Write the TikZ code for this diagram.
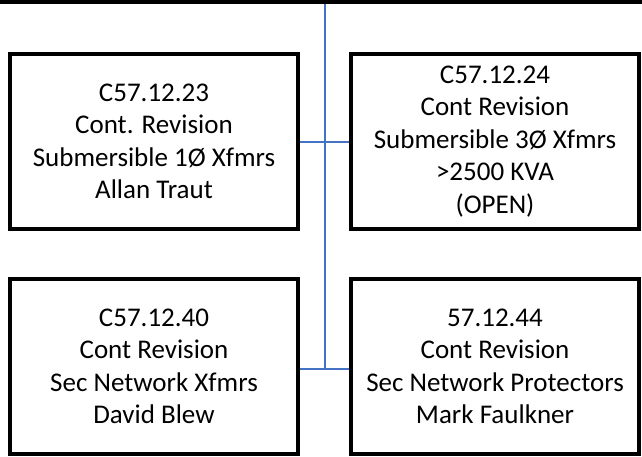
\documentclass[tikz,border=0pt]{standalone}
\usepackage{fontspec}
\setmainfont{Carlito}
\definecolor{linkblue}{RGB}{68,114,196}
\tikzset{
    unit/.style={draw, line width=4pt, minimum width=288pt, minimum height=175pt,
        inner sep=0pt, align=center, font=\fontsize{27}{32.5}\selectfont},
    link/.style={draw=linkblue, line width=2pt}
}
\begin{document}
\begin{tikzpicture}[x=1pt,y=-1pt]
        \useasboundingbox (0,0) rectangle (642,456);
        \clip (0,0) rectangle (642,456);
        \node[draw, line width=4pt, minimum width=700pt, minimum height=100pt] (top) at (325,-48.5) {}; % parent, cut off
        \node[unit] (c23) at (154,141.5) {C57.12.23\\Cont. Revision\\Submersible 1Ø Xfmrs\\Allan Traut}; % upper left
        \node[unit] (c24) at (495,141.5) {C57.12.24\\Cont Revision\\Submersible 3Ø Xfmrs\\>2500 KVA\\(OPEN)}; % upper right
        \node[unit] (c40) at (154,366.5) {C57.12.40\\Cont Revision\\Sec Network Xfmrs\\David Blew}; % lower left
        \node[unit] (c44) at (495,366.5) {57.12.44\\Cont Revision\\Sec Network Protectors\\Mark Faulkner}; % lower right
        \coordinate (j2) at (325,369);
        \draw[link] (top.south) -- (j2);
        \draw[link] (c23.east) -- (c24.west);
        \draw[link] (c40.east |- j2) -- (c44.west |- j2);
    \end{tikzpicture}
\end{document}
